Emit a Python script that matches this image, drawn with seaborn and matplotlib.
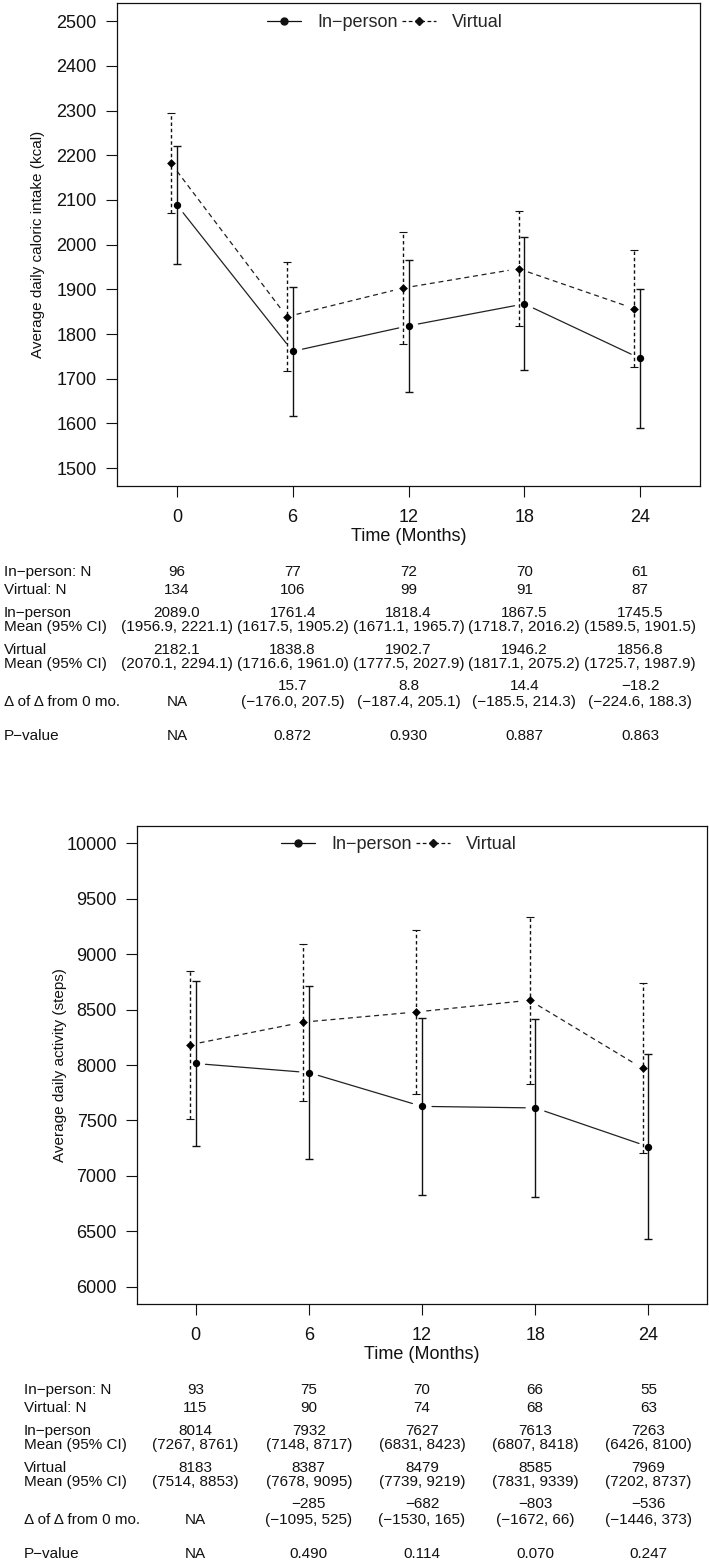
import numpy as np
import pandas as pd
import matplotlib
matplotlib.use("Agg")
import matplotlib.pyplot as plt
import matplotlib.transforms as mtransforms
from matplotlib.lines import Line2D
import seaborn as sns

months = [0, 6, 12, 18, 24]

# panel 1 : caloric intake (kcal)
kcal_n_inperson = [96, 77, 72, 70, 61]
kcal_n_virtual = [134, 106, 99, 91, 87]
kcal_mean_inperson = [2089.0, 1761.4, 1818.4, 1867.5, 1745.5]
kcal_lo_inperson = [1956.9, 1617.5, 1671.1, 1718.7, 1589.5]
kcal_hi_inperson = [2221.1, 1905.2, 1965.7, 2016.2, 1901.5]
kcal_mean_virtual = [2182.1, 1838.8, 1902.7, 1946.2, 1856.8]
kcal_lo_virtual = [2070.1, 1716.6, 1777.5, 1817.1, 1725.7]
kcal_hi_virtual = [2294.1, 1961.0, 2027.9, 2075.2, 1987.9]
kcal_dd = [None, 15.7, 8.8, 14.4, -18.2]
kcal_dd_lo = [None, -176.0, -187.4, -185.5, -224.6]
kcal_dd_hi = [None, 207.5, 205.1, 214.3, 188.3]
kcal_p = [None, 0.872, 0.930, 0.887, 0.863]
kcal_yticks = [1500, 1600, 1700, 1800, 1900, 2000, 2100, 2200, 2300, 2400, 2500]

# panel 2 : activity (steps)
steps_n_inperson = [93, 75, 70, 66, 55]
steps_n_virtual = [115, 90, 74, 68, 63]
steps_mean_inperson = [8014, 7932, 7627, 7613, 7263]
steps_lo_inperson = [7267, 7148, 6831, 6807, 6426]
steps_hi_inperson = [8761, 8717, 8423, 8418, 8100]
steps_mean_virtual = [8183, 8387, 8479, 8585, 7969]
steps_lo_virtual = [7514, 7678, 7739, 7831, 7202]
steps_hi_virtual = [8853, 9095, 9219, 9339, 8737]
steps_dd = [None, -285, -682, -803, -536]
steps_dd_lo = [None, -1095, -1530, -1672, -1446]
steps_dd_hi = [None, 525, 165, 66, 373]
steps_p = [None, 0.490, 0.114, 0.070, 0.247]
steps_yticks = [6000, 6500, 7000, 7500, 8000, 8500, 9000, 9500, 10000]

sns.set_style("ticks")
plt.rcParams['font.family'] = ['Liberation Sans', 'DejaVu Sans']
plt.rcParams['axes.unicode_minus'] = True

INK = '#111111'
W, H = 709, 1565


def num(v, dec):
    s = f"{v:.{dec}f}"
    return s.replace('-', '\u2212')


def gapped_line(ax, xs, ys, gap, **kw):
    # R type="b": segments stop short of the points
    pts = ax.transData.transform(np.column_stack([xs, ys]))
    inv = ax.transData.inverted()
    for p0, p1 in zip(pts[:-1], pts[1:]):
        d = p1 - p0
        u = d / np.hypot(*d)
        a, b = inv.transform(np.array([p0 + u * gap, p1 - u * gap]))
        ax.plot([a[0], b[0]], [a[1], b[1]], **kw)


def draw_panel(ax, df, yticks, ylim, ylabel):
    ax.set_xlim(-3.1, 27.1)
    ax.set_ylim(*ylim)
    ip = df[df.group == 'In-person']
    vi = df[df.group == 'Virtual']
    xv = vi.month - 0.3

    gapped_line(ax, ip.month.values, ip['mean'].values, 10, color='#222222', lw=0.9)
    gapped_line(ax, xv.values, vi['mean'].values, 10, color='#222222', lw=0.9,
                ls=(0, (4, 3)))

    ax.errorbar(ip.month, ip['mean'], yerr=[ip['mean'] - ip.lo, ip.hi - ip['mean']],
                fmt='none', ecolor=INK, elinewidth=1.0, capsize=3, capthick=1.0)
    eb = ax.errorbar(xv, vi['mean'], yerr=[vi['mean'] - vi.lo, vi.hi - vi['mean']],
                     fmt='none', ecolor=INK, elinewidth=1.0, capsize=3, capthick=0.8)
    eb[2][0].set_linestyle((0, (2.5, 2)))

    sns.scatterplot(x=ip.month, y=ip['mean'], marker='o', s=28, color='black',
                    linewidth=0, ax=ax, zorder=4)
    sns.scatterplot(x=xv, y=vi['mean'], marker='D', s=20, color='black',
                    linewidth=0, ax=ax, zorder=4)

    ax.set_xticks(months)
    ax.set_xticklabels([str(m) for m in months])
    ax.set_yticks(yticks)
    ax.tick_params(direction='out', length=8, width=0.8, pad=6.5, labelsize=13,
                   colors=INK)
    ax.tick_params(axis='x', pad=8.5)
    for sp in ax.spines.values():
        sp.set_visible(True)
        sp.set_linewidth(0.9)
        sp.set_color(INK)
    ax.set_xlabel('Time (Months)', fontsize=13, labelpad=1.5, color=INK)
    ax.set_ylabel(ylabel, fontsize=11, color=INK)
    ax.yaxis.set_label_coords(-0.123, 0.5)

    handles = [Line2D([], [], color=INK, lw=0.9, marker='o', markersize=5),
               Line2D([], [], color=INK, lw=0.9, ls=(0, (3, 2)), marker='D', markersize=4)]
    ax.legend(handles, ['In\u2212person', 'Virtual'], loc='center',
              bbox_to_anchor=(0.46, 0.96), ncol=2, frameon=False, fontsize=13,
              handlelength=1.9, handletextpad=0.9, columnspacing=0.2)


def draw_table(fig, ax, base_y, label_x, n_ip, n_v, m_ip, lo_ip, hi_ip,
               m_v, lo_v, hi_v, dd, dd_lo, dd_hi, pv, dec):
    rows = [86, 104, 127, 141, 164, 178, 200, 216, 250]
    ys = [1 - (base_y + r) / H for r in rows]
    tr = mtransforms.blended_transform_factory(ax.transData, fig.transFigure)
    kw = dict(fontsize=11, color=INK, va='center')
    labels = [(0, 'In\u2212person: N'), (1, 'Virtual: N'), (2, 'In\u2212person'),
              (3, 'Mean (95% CI)'), (4, 'Virtual'), (5, 'Mean (95% CI)'),
              (7, '\u0394 of \u0394 from 0 mo.'), (8, 'P\u2212value')]
    for i, t in labels:
        fig.text(label_x / W, ys[i], t, ha='left', **kw)
    for k, m in enumerate(months):
        fig.text(m, ys[0], str(n_ip[k]), ha='center', transform=tr, **kw)
        fig.text(m, ys[1], str(n_v[k]), ha='center', transform=tr, **kw)
        fig.text(m, ys[2], num(m_ip[k], dec), ha='center', transform=tr, **kw)
        fig.text(m, ys[3], f"({num(lo_ip[k], dec)}, {num(hi_ip[k], dec)})",
                 ha='center', transform=tr, **kw)
        fig.text(m, ys[4], num(m_v[k], dec), ha='center', transform=tr, **kw)
        fig.text(m, ys[5], f"({num(lo_v[k], dec)}, {num(hi_v[k], dec)})",
                 ha='center', transform=tr, **kw)
        if dd[k] is None:
            fig.text(m, ys[7], 'NA', ha='center', transform=tr, **kw)
            fig.text(m, ys[8], 'NA', ha='center', transform=tr, **kw)
        else:
            fig.text(m, ys[6], num(dd[k], dec), ha='center', transform=tr, **kw)
            fig.text(m, ys[7], f"({num(dd_lo[k], dec)}, {num(dd_hi[k], dec)})",
                     ha='center', transform=tr, **kw)
            fig.text(m, ys[8], f"{pv[k]:.3f}", ha='center', transform=tr, **kw)


def long_df(mean_ip, lo_ip, hi_ip, mean_v, lo_v, hi_v):
    a = pd.DataFrame({'month': months, 'mean': mean_ip, 'lo': lo_ip, 'hi': hi_ip,
                      'group': 'In-person'})
    b = pd.DataFrame({'month': months, 'mean': mean_v, 'lo': lo_v, 'hi': hi_v,
                      'group': 'Virtual'})
    return pd.concat([a, b], ignore_index=True)


fig = plt.figure(figsize=(W / 100, H / 100), dpi=100)
fig.patch.set_facecolor('white')

ax1 = fig.add_axes([117 / W, 1 - 486 / H, 583 / W, 482.7 / H])
ax2 = fig.add_axes([137 / W, 1 - 1304.4 / H, 570 / W, 478.7 / H])

kcal = long_df(kcal_mean_inperson, kcal_lo_inperson, kcal_hi_inperson,
               kcal_mean_virtual, kcal_lo_virtual, kcal_hi_virtual)
steps = long_df(steps_mean_inperson, steps_lo_inperson, steps_hi_inperson,
                steps_mean_virtual, steps_lo_virtual, steps_hi_virtual)

draw_panel(ax1, kcal, kcal_yticks, (1460, 2540), 'Average daily caloric intake (kcal)')
draw_panel(ax2, steps, steps_yticks, (5840, 10160), 'Average daily activity (steps)')

draw_table(fig, ax1, 486, 4, kcal_n_inperson, kcal_n_virtual,
           kcal_mean_inperson, kcal_lo_inperson, kcal_hi_inperson,
           kcal_mean_virtual, kcal_lo_virtual, kcal_hi_virtual,
           kcal_dd, kcal_dd_lo, kcal_dd_hi, kcal_p, 1)
draw_table(fig, ax2, 1304.4, 24, steps_n_inperson, steps_n_virtual,
           steps_mean_inperson, steps_lo_inperson, steps_hi_inperson,
           steps_mean_virtual, steps_lo_virtual, steps_hi_virtual,
           steps_dd, steps_dd_lo, steps_dd_hi, steps_p, 0)

fig.savefig('out.png', dpi=100)
